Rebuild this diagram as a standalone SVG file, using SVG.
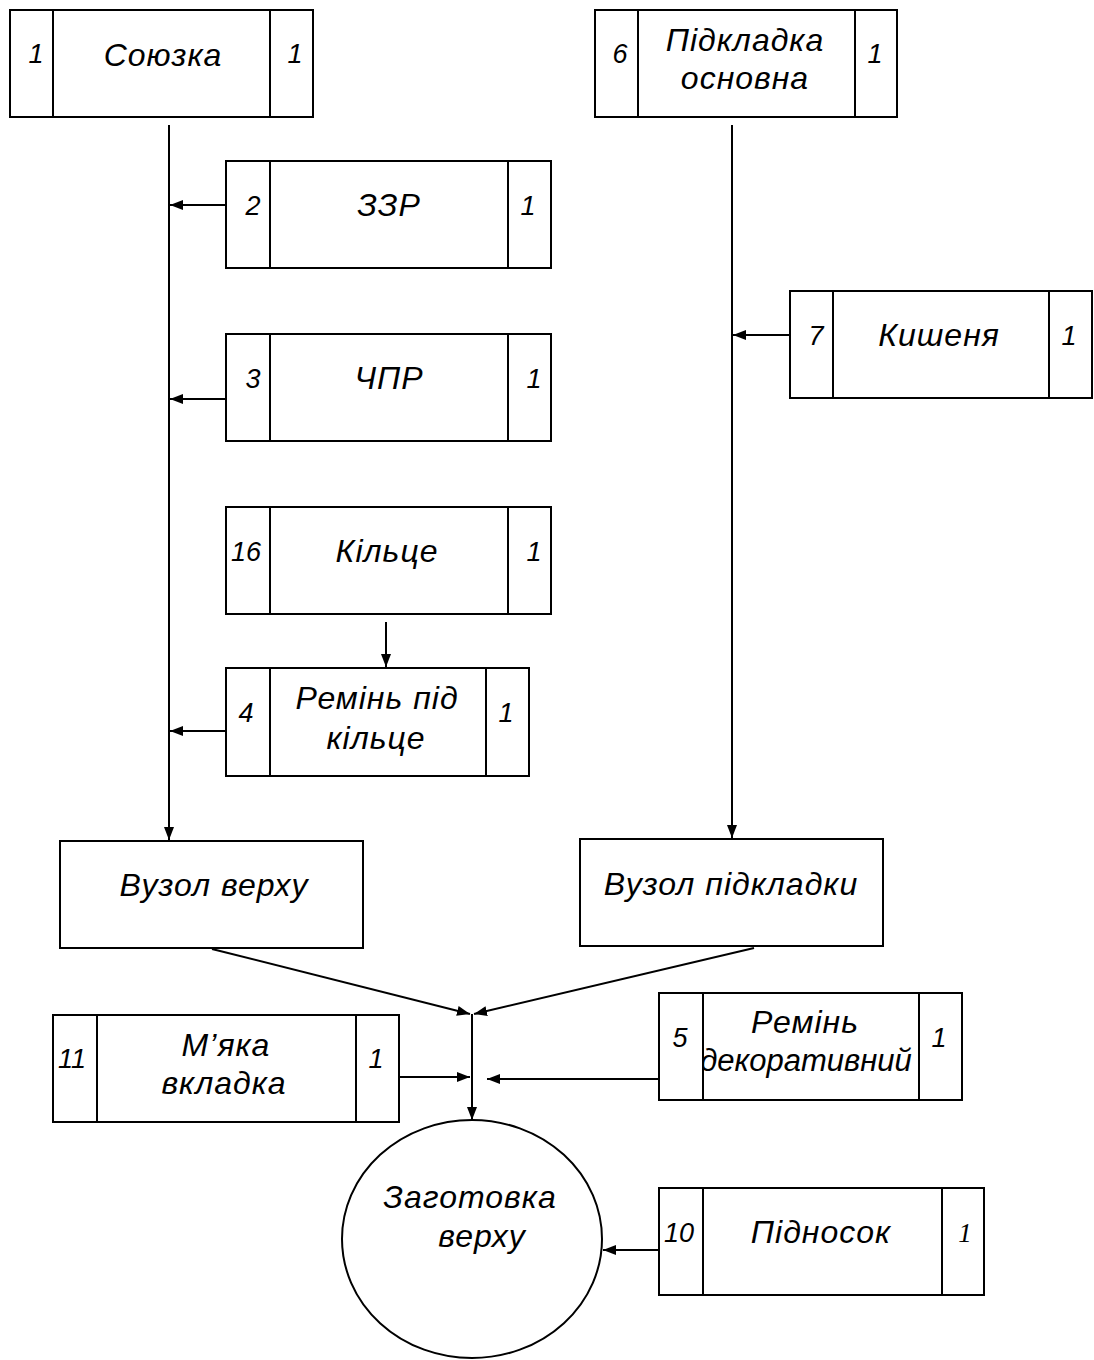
<svg xmlns="http://www.w3.org/2000/svg" width="1094" height="1360" viewBox="0 0 1094 1360">
<style>
.b{fill:#fff;stroke:#000;stroke-width:2}
.d{stroke:#000;stroke-width:2;fill:none}
.t{font-family:"Liberation Sans",Arial,sans-serif;font-style:italic;font-size:32px;letter-spacing:1px;fill:#000;text-anchor:middle}
.n{font-family:"Liberation Sans",Arial,sans-serif;font-style:italic;font-size:27px;fill:#000;text-anchor:middle}
.c{stroke:#000;stroke-width:2;fill:none;marker-end:url(#a)}
</style>
<defs>
<marker id="a" viewBox="0 0 13 10" refX="13" refY="5" markerWidth="13" markerHeight="10" markerUnits="userSpaceOnUse" orient="auto">
<path d="M0,0 L13,5 L0,10 z" fill="#000"/>
</marker>
<clipPath id="clip5"><rect x="704" y="994" width="214" height="105"/></clipPath>
</defs>
<g id="connectors">
<line class="c" x1="169" y1="125" x2="169" y2="840"/>
<line class="c" x1="226" y1="205" x2="170" y2="205"/>
<line class="c" x1="226" y1="399" x2="170" y2="399"/>
<line class="c" x1="386" y1="622" x2="386" y2="667"/>
<line class="c" x1="226" y1="731" x2="170" y2="731"/>
<line class="c" x1="732" y1="125" x2="732" y2="838"/>
<line class="c" x1="790" y1="335" x2="733" y2="335"/>
<line class="c" x1="212" y1="949" x2="470" y2="1014"/>
<line class="c" x1="754" y1="948" x2="474" y2="1014"/>
<line class="c" x1="472" y1="1014" x2="472" y2="1120"/>
<line class="c" x1="399" y1="1077" x2="470" y2="1077"/>
<line class="c" x1="659" y1="1079" x2="487" y2="1079"/>
<line class="c" x1="659" y1="1250" x2="603" y2="1250"/>
</g>
<g id="n1">
<rect class="b" x="10" y="10" width="303" height="107"/>
<line class="d" x1="53" y1="10" x2="53" y2="117"/><line class="d" x1="270" y1="10" x2="270" y2="117"/>
<text class="n" x="36" y="63">1</text><text class="t" x="163" y="66">Союзка</text><text class="n" x="295" y="63">1</text>
</g>
<g id="n2">
<rect class="b" x="226" y="161" width="325" height="107"/>
<line class="d" x1="270" y1="161" x2="270" y2="268"/><line class="d" x1="508" y1="161" x2="508" y2="268"/>
<text class="n" x="253" y="215">2</text><text class="t" x="389" y="216">ЗЗР</text><text class="n" x="528" y="215">1</text>
</g>
<g id="n3">
<rect class="b" x="226" y="334" width="325" height="107"/>
<line class="d" x1="270" y1="334" x2="270" y2="441"/><line class="d" x1="508" y1="334" x2="508" y2="441"/>
<text class="n" x="253" y="388">3</text><text class="t" x="389" y="389">ЧПР</text><text class="n" x="534" y="388">1</text>
</g>
<g id="n16">
<rect class="b" x="226" y="507" width="325" height="107"/>
<line class="d" x1="270" y1="507" x2="270" y2="614"/><line class="d" x1="508" y1="507" x2="508" y2="614"/>
<text class="n" x="246" y="561">16</text><text class="t" x="387" y="562">Кільце</text><text class="n" x="534" y="561">1</text>
</g>
<g id="n4">
<rect class="b" x="226" y="668" width="303" height="108"/>
<line class="d" x1="270" y1="668" x2="270" y2="776"/><line class="d" x1="486" y1="668" x2="486" y2="776"/>
<text class="n" x="246" y="722">4</text>
<text class="t" x="377" y="709">Ремінь під</text><text class="t" x="376" y="749">кільце</text>
<text class="n" x="506" y="722">1</text>
</g>
<g id="nVV">
<rect class="b" x="60" y="841" width="303" height="107"/>
<text class="t" x="214" y="896">Вузол верху</text>
</g>
<g id="n6">
<rect class="b" x="595" y="10" width="302" height="107"/>
<line class="d" x1="638" y1="10" x2="638" y2="117"/><line class="d" x1="855" y1="10" x2="855" y2="117"/>
<text class="n" x="620" y="63">6</text>
<text class="t" x="745" y="51">Підкладка</text><text class="t" x="745" y="89">основна</text>
<text class="n" x="875" y="63">1</text>
</g>
<g id="n7">
<rect class="b" x="790" y="291" width="302" height="107"/>
<line class="d" x1="833" y1="291" x2="833" y2="398"/><line class="d" x1="1049" y1="291" x2="1049" y2="398"/>
<text class="n" x="816" y="345">7</text><text class="t" x="939" y="346">Кишеня</text><text class="n" x="1069" y="345">1</text>
</g>
<g id="nVP">
<rect class="b" x="580" y="839" width="303" height="107"/>
<text class="t" x="731" y="895">Вузол підкладки</text>
</g>
<g id="n11">
<rect class="b" x="53" y="1015" width="346" height="107"/>
<line class="d" x1="97" y1="1015" x2="97" y2="1122"/><line class="d" x1="356" y1="1015" x2="356" y2="1122"/>
<text class="n" x="72" y="1068">11</text>
<text class="t" x="226" y="1056">М’яка</text><text class="t" x="224" y="1094">вкладка</text>
<text class="n" x="376" y="1068">1</text>
</g>
<g id="n5">
<rect class="b" x="659" y="993" width="303" height="107"/>
<line class="d" x1="703" y1="993" x2="703" y2="1100"/><line class="d" x1="919" y1="993" x2="919" y2="1100"/>
<text class="n" x="680" y="1047">5</text>
<g clip-path="url(#clip5)">
<text class="t" x="805" y="1033">Ремінь</text><text class="t" x="806" y="1071" style="font-size:31px;letter-spacing:0">декоративний</text>
</g>
<text class="n" x="939" y="1047">1</text>
</g>
<g id="nZV">
<ellipse class="b" cx="472" cy="1239" rx="130" ry="119"/>
<text class="t" x="470" y="1208">Заготовка</text><text class="t" x="482" y="1247">верху</text>
</g>
<g id="n10">
<rect class="b" x="659" y="1188" width="325" height="107"/>
<line class="d" x1="703" y1="1188" x2="703" y2="1295"/><line class="d" x1="942" y1="1188" x2="942" y2="1295"/>
<text class="n" x="679" y="1242">10</text><text class="t" x="821" y="1243">Підносок</text>
<text class="n" x="965" y="1242" style="font-family:'Liberation Serif','Times New Roman',serif">1</text>
</g>
</svg>
